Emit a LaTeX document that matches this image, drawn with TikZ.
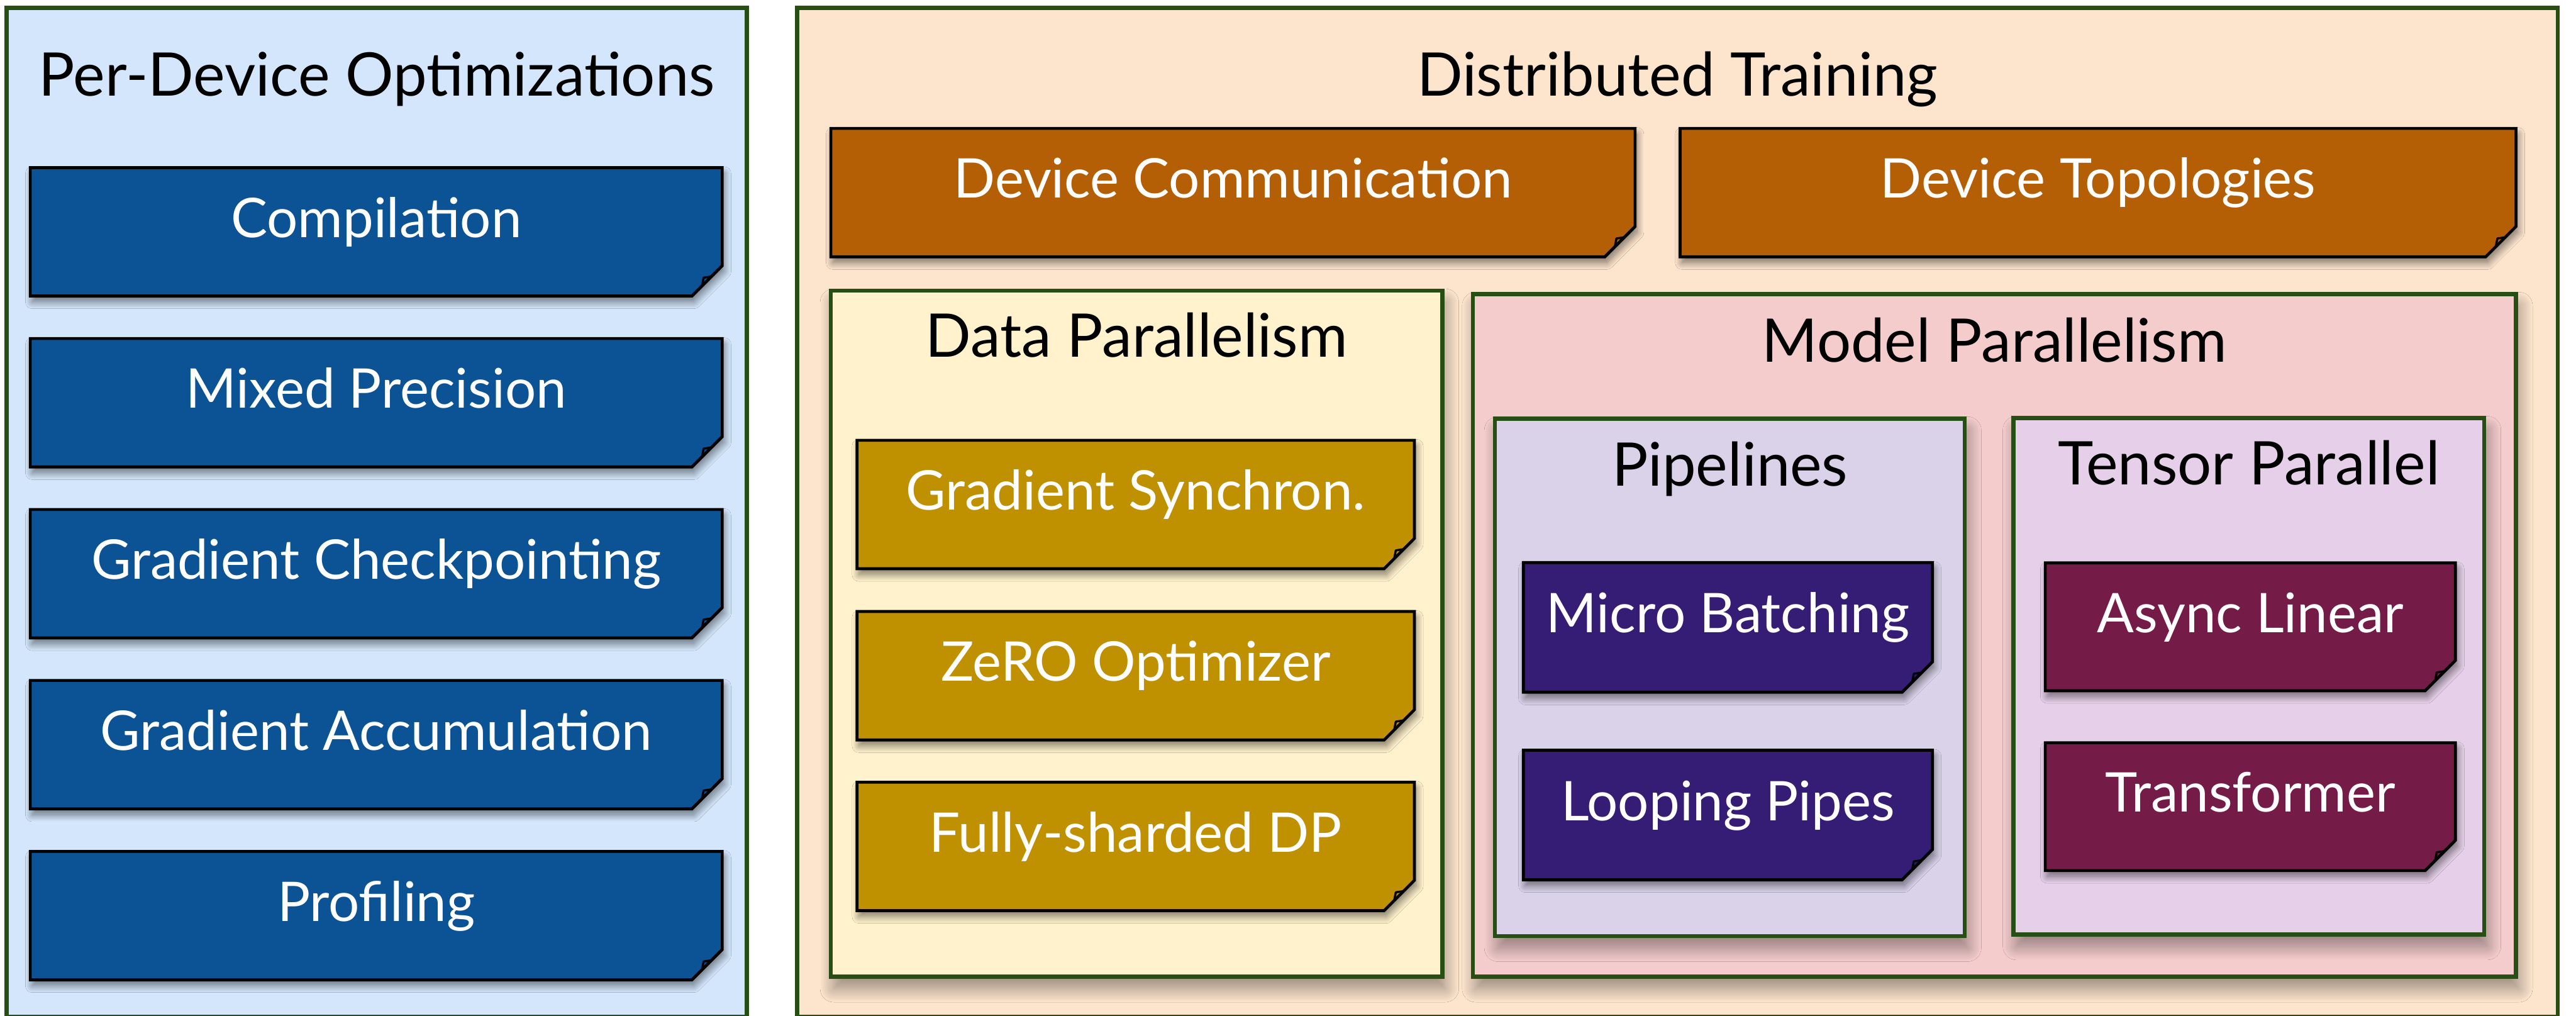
\documentclass[tikz,border=0pt]{standalone}
\usepackage{fontspec}
\setmainfont{Lato}
\usepackage{color}
\usetikzlibrary{shapes.misc}
\usetikzlibrary{shadows.blur}
\usetikzlibrary{positioning}

\definecolor{frameGreen}{HTML}{274E13}
\definecolor{perdevBg}{HTML}{D3E6FB}
\definecolor{distBg}{HTML}{FCE4CD}
\definecolor{dataBg}{HTML}{FFF2CC}
\definecolor{modelBg}{HTML}{F4CCCC}
\definecolor{pipeBg}{HTML}{D9D2E9}
\definecolor{tensorBg}{HTML}{E6D0E9}
\definecolor{noteBlue}{HTML}{0B5394}
\definecolor{noteBrown}{HTML}{B45F06}
\definecolor{noteGold}{HTML}{BF9000}
\definecolor{notePurple}{HTML}{351C75}
\definecolor{noteMagenta}{HTML}{741B47}

\begin{document}
\begin{tikzpicture}[
    panel/.style={rectangle, draw=frameGreen, line width=2.1pt, inner sep=0pt},
    group/.style={panel, blur shadow={shadow xshift=1.5pt, shadow yshift=-6pt, shadow blur radius=7pt, shadow blur steps=24, shadow opacity=40}},
    ptitle/.style={anchor=base, inner sep=0pt, font=\fontsize{30.8}{37}\selectfont},
    note/.style={chamfered rectangle, chamfered rectangle corners=south east,
        chamfered rectangle xsep=0.40cm, chamfered rectangle ysep=0.38cm,
        fill=#1, draw=black, line width=1.5pt, inner sep=0pt,
        minimum height=2.31cm, text=white,
        font=\fontsize{28}{34}\selectfont, text height=0.75em, text depth=0.19em,
        blur shadow={shadow xshift=1pt, shadow yshift=-3pt, shadow blur radius=3.5pt, shadow blur steps=16, shadow opacity=50},
        path picture={\draw[line width=1.1pt, line join=round]
            ([xshift=-0.40cm]path picture bounding box.south east)
            -- ([xshift=-0.335cm, yshift=0.33cm]path picture bounding box.south east)
            -- ([yshift=0.38cm]path picture bounding box.south east);}}
    ]
    \useasboundingbox (0,0) rectangle (46.35,18.27);

    % two outer panels
    \node[panel, fill=perdevBg, minimum width=13.32cm, minimum height=18.15cm] (perdev) at (6.78,9.055) {};
    \node[panel, fill=distBg, minimum width=31.68cm, minimum height=18.15cm] (dist) at (30.18,9.055) {};
    \node[ptitle] (perdevT) at ([yshift=-1.62cm]perdev.north) {Per-Device Optimizations};
    \node[ptitle] (distT) at ([yshift=-1.62cm]dist.north) {Distributed Training};

    % per-device
    \node[note=noteBlue, minimum width=12.45cm] (compile) at (6.77,14.10) {Compilation};
    \node[note=noteBlue, minimum width=12.45cm] (mixed) at (6.77,11.025) {Mixed Precision};
    \node[note=noteBlue, minimum width=12.45cm] (ckpt) at (6.77,7.95) {Gradient Checkpointing};
    \node[note=noteBlue, minimum width=12.45cm] (accum) at (6.77,4.875) {Gradient Accumulation};
    \node[note=noteBlue, minimum width=12.45cm] (profile) at (6.77,1.80) {Profiling};

    % devices
    \node[note=noteBrown, minimum width=14.47cm] (comm) at (22.185,14.805) {Device Communication};
    \node[note=noteBrown, minimum width=15.04cm] (topo) at (37.75,14.805) {Device Topologies};

    % data parallel
    \node[group, fill=dataBg, minimum width=11cm, minimum height=12.34cm] (data) at (20.45,6.87) {};
    \node[ptitle] (dataT) at ([yshift=-1.23cm]data.north) {Data Parallelism};
    \node[note=noteGold, minimum width=10.03cm] (gsync) at (20.435,9.195) {Gradient Synchron.};
    \node[note=noteGold, minimum width=10.03cm] (zero) at (20.435,6.115) {ZeRO Optimizer};
    \node[note=noteGold, minimum width=10.03cm] (fsdp) at (20.435,3.045) {Fully-sharded DP};

    % model parallel
    \node[group, fill=modelBg, minimum width=18.77cm, minimum height=12.28cm] (model) at (35.885,6.84) {};
    \node[ptitle] (modelT) at ([yshift=-1.26cm]model.north) {Model Parallelism};

    \node[group, fill=pipeBg, minimum width=8.45cm, minimum height=9.31cm] (pipe) at (31.125,6.085) {};
    \node[ptitle] (pipeT) at ([yshift=-1.25cm]pipe.north) {Pipelines};
    \node[note=notePurple, minimum width=7.36cm, minimum height=2.33cm] (micro) at (31.09,6.985) {Micro Batching};
    \node[note=notePurple, minimum width=7.36cm, minimum height=2.33cm] (loop) at (31.09,3.61) {Looping Pipes};

    \node[group, fill=tensorBg, minimum width=8.47cm, minimum height=9.29cm] (tensor) at (40.465,6.105) {};
    \node[ptitle] (tensorT) at ([yshift=-1.24cm]tensor.north) {Tensor Parallel};
    \node[note=noteMagenta, minimum width=7.38cm, minimum height=2.30cm] (async) at (40.49,6.995) {Async Linear};
    \node[note=noteMagenta, minimum width=7.38cm, minimum height=2.30cm] (trafo) at (40.49,3.76) {Transformer};
\end{tikzpicture}
\end{document}
